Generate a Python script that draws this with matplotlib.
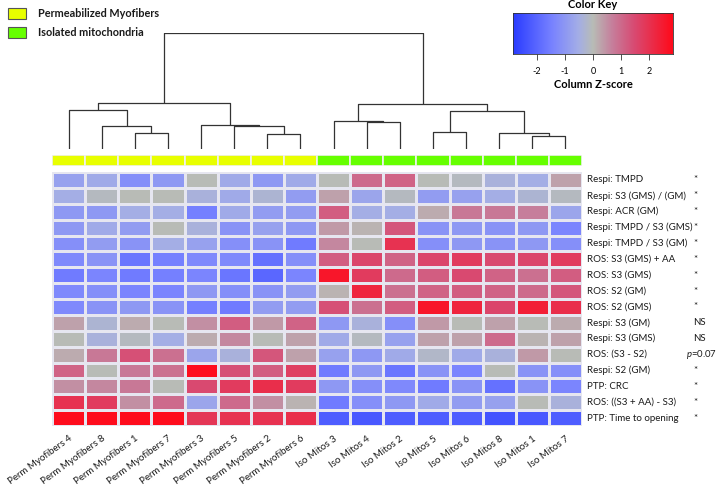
import numpy as np
import matplotlib
matplotlib.use("Agg")
import matplotlib.pyplot as plt
from matplotlib.colors import LinearSegmentedColormap, Normalize
from matplotlib.patches import Rectangle

plt.rcParams['font.family'] = ['Lato', 'DejaVu Sans']
plt.rcParams['mathtext.fontset'] = 'custom'
plt.rcParams['mathtext.rm'] = 'Lato'
plt.rcParams['mathtext.it'] = 'Lato:italic'

columns = ["Perm Myofibers 4", "Perm Myofibers 8", "Perm Myofibers 1", "Perm Myofibers 7",
           "Perm Myofibers 3", "Perm Myofibers 5", "Perm Myofibers 2", "Perm Myofibers 6",
           "Iso Mitos 3", "Iso Mitos 4", "Iso Mitos 2", "Iso Mitos 5",
           "Iso Mitos 6", "Iso Mitos 8", "Iso Mitos 1", "Iso Mitos 7"]
groups = ["Permeabilized Myofibers"] * 8 + ["Isolated mitochondria"] * 8
group_colors = {"Permeabilized Myofibers": "#e8ff00", "Isolated mitochondria": "#66ff00"}

rows = ["Respi: TMPD", "Respi: S3 (GMS) / (GM)", "Respi: ACR (GM)", "Respi: TMPD / S3 (GMS)",
        "Respi: TMPD / S3 (GM)", "ROS: S3 (GMS) + AA", "ROS: S3 (GMS)", "ROS: S2 (GM)",
        "ROS: S2 (GMS)", "Respi: S3 (GM)", "Respi: S3 (GMS)", "ROS: (S3 - S2)",
        "Respi: S2 (GM)", "PTP: CRC", "ROS: ((S3 + AA) - S3)", "PTP: Time to opening"]
significance = ["*", "*", "*", "*", "*", "*", "*", "*", "*", "NS", "NS", "p=0.07",
                "*", "*", "*", "*"]

zscores = np.array([
    [-0.8, -0.6, -1.2, -1.0,  0.0, -0.6, -1.0, -0.6,   0.0,  1.0,  1.1,  0.0, -0.1, -0.4, -0.5,  0.3],
    [-0.5, -0.1,  0.0,  0.0, -0.4, -0.6, -0.3, -0.9,   0.3, -0.7, -0.1, -0.9, -0.8, -0.5, -0.3, -0.1],
    [-1.0, -1.0, -0.5, -0.5, -1.5, -0.6, -0.9, -0.9,   1.2, -0.5, -0.5,  0.2,  0.8,  0.8,  0.7, -0.7],
    [-1.0, -0.6, -0.9,  0.0, -0.4, -1.1, -0.8, -1.0,   0.4,  0.1,  1.3, -1.1, -1.0, -1.1, -1.0, -1.4],
    [-1.2, -0.9, -1.1, -0.5, -0.8, -1.2, -1.1, -1.6,   0.6,  0.0,  2.0, -1.2, -1.0, -1.1, -1.0, -1.2],
    [-1.3, -1.1, -1.7, -1.5, -1.3, -1.3, -1.8, -1.2,   1.2,  1.6,  1.1,  1.6,  1.8,  1.5,  1.6,  1.8],
    [-1.6, -1.4, -1.6, -1.5, -1.4, -1.7, -2.0, -1.4,   2.6,  1.8,  1.0,  1.2,  1.5,  1.1,  0.9,  1.2],
    [-1.3, -1.2, -1.4, -1.4, -1.0, -1.2, -1.1, -0.9,   0.1,  2.3,  0.9,  1.1,  1.2,  1.1,  1.0,  1.3],
    [-1.3, -1.1, -1.0, -1.1, -1.5, -1.6, -0.9, -0.9,   1.4,  0.9,  1.2,  2.6,  2.3,  1.6,  2.4,  2.1],
    [ 0.3, -0.3,  0.2,  0.0,  0.5,  1.2,  0.4,  1.1,  -1.0, -0.4, -1.2,  0.4,  0.0,  0.3,  0.0,  0.2],
    [ 0.0, -0.4, -0.1, -0.5,  0.2,  0.6,  0.0,  0.3,  -0.6, -0.1, -0.8,  0.3,  0.3,  1.0,  0.1,  0.3],
    [ 0.2,  0.8,  1.4,  0.9, -0.7, -0.4,  1.3,  0.3,  -0.8, -1.0, -0.6, -0.2, -0.6, -0.4,  0.4,  0.0],
    [ 1.1,  0.0,  0.8,  0.9,  2.8,  1.4,  1.2,  1.7,  -1.6, -1.0, -1.7, -1.1, -1.4,  0.0, -1.1, -1.2],
    [ 0.5,  0.6,  0.8,  0.0,  1.5,  1.8,  2.1,  1.8,  -1.0, -1.2, -1.3, -1.6, -1.1, -1.8, -1.1, -1.4],
    [ 2.0,  1.8,  0.5,  1.0, -0.7,  1.0,  0.5,  0.1,  -1.6, -1.2, -1.0, -0.6, -0.9, -0.8,  0.0, -0.4],
    [ 2.8,  2.8,  2.8,  2.8,  1.9,  2.0,  2.0,  2.1,  -2.2, -2.3, -2.2, -2.2, -2.2, -2.4, -2.3, -2.2],
])

# dendrogram merges: (left, right, height); ids < 16 are leaves in display order
merges = [
    (2, 3, 16.7), (6, 7, 15.7), (14, 15, 13.3), (11, 12, 17.7), (13, 18, 16.0),
    (9, 10, 27.0), (1, 16, 23.3), (5, 17, 23.3), (4, 23, 24.7), (8, 21, 28.7),
    (0, 22, 38.7), (19, 20, 38.0), (26, 24, 46.0), (25, 27, 44.7), (28, 29, 116.0),
]

key_ticks = [-2, -1, 0, 1, 2]
zlim = 2.86

cmap = LinearSegmentedColormap.from_list("ck", [
    (0.00, "#2a3cff"),
    (0.25, "#7a84ff"),
    (0.41, "#a4aee6"),
    (0.50, "#b8bcb6"),
    (0.62, "#c67f9c"),
    (0.76, "#d84a72"),
    (1.00, "#ff0a1a"),
])
norm = Normalize(-zlim, zlim)

W, H = 720, 487
fig = plt.figure(figsize=(W / 100, H / 100), dpi=100)


def px_axes(x0, y0, x1, y1):
    return fig.add_axes([x0 / W, 1 - y1 / H, (x1 - x0) / W, (y1 - y0) / H])


HX0, HX1, HY0, HY1 = 52, 582, 172, 426
n_r, n_c = zscores.shape
FS = 7.0
TXT = "#1a1a1a"

# heatmap
ax = px_axes(HX0, HY0, HX1, HY1)
ax.pcolormesh(np.arange(n_c + 1), np.arange(n_r + 1), zscores, cmap=cmap, norm=norm,
              edgecolors="#e6e6f0", linewidth=1.0)
ax.set_xlim(0, n_c)
ax.set_ylim(n_r, 0)
ax.axis("off")
for i, lab in enumerate(rows):
    ax.text(n_c + 0.15, i + 0.5, lab, ha="left", va="center", fontsize=FS, color=TXT)
for j, lab in enumerate(columns):
    ax.text(j + 0.5, n_r + 0.5, lab, rotation=36, ha="right", va="top",
            rotation_mode="anchor", fontsize=7.0, color=TXT)

# significance column
for i, s in enumerate(significance):
    y = 1 - (HY0 + (i + 0.5) * (HY1 - HY0) / n_r) / H
    if s.startswith("p="):
        fig.text(717 / W, y, "$p$=0.07", ha="right", va="center", fontsize=6.8, color=TXT)
    else:
        fig.text(693 / W, y, s, ha="left", va="center", fontsize=FS, color=TXT)

# group colour bar
axg = px_axes(HX0, 155, HX1, 166)
for j, g in enumerate(groups):
    axg.add_patch(Rectangle((j, 0), 1, 1, facecolor=group_colors[g], edgecolor="#f0f0f0", linewidth=1.2))
axg.set_xlim(0, n_c)
axg.set_ylim(0, 1)
axg.axis("off")

# dendrogram
axd = px_axes(HX0, 33, HX1, 149.3)
pos = {i: (i + 0.5, 0.0) for i in range(n_c)}
for k, (a, b, h) in enumerate(merges):
    xa, ha_ = pos[a]
    xb, hb = pos[b]
    axd.plot([xa, xa, xb, xb], [ha_, h, h, hb], color="#333333", lw=0.9, solid_capstyle="butt")
    pos[n_c + k] = ((xa + xb) / 2, h)
axd.set_xlim(0, n_c)
axd.set_ylim(0, merges[-1][2])
axd.axis("off")

# legend
for (lab, yy) in [("Permeabilized Myofibers", 8), ("Isolated mitochondria", 27)]:
    fig.patches.append(Rectangle((8 / W, 1 - (yy + 11) / H), 18 / W, 11 / H, transform=fig.transFigure,
                                 facecolor=group_colors[lab], edgecolor="#555555", linewidth=0.8))
    fig.text(38 / W, 1 - (yy + 5.5) / H, lab, ha="left", va="center", fontsize=7.8, fontweight="bold",
             color=TXT)

# colour key
axk = px_axes(513, 13, 673, 54)
grad = np.linspace(-zlim, zlim, 256)[None, :]
axk.imshow(grad, cmap=cmap, norm=norm, aspect="auto", extent=(-zlim, zlim, 0, 1))
axk.set_xlim(-zlim, zlim)
axk.set_yticks([])
axk.set_xticks(key_ticks)
axk.set_xticklabels([str(t) for t in key_ticks], fontsize=6.5)
axk.tick_params(axis="x", length=4, width=0.6, pad=5, color="#333333")
for sp in axk.spines.values():
    sp.set_linewidth(0.6)
    sp.set_color("#333333")
fig.text(593 / W, 1 - 5 / H, "Color Key", ha="center", va="center", fontsize=8, fontweight="bold")
fig.text(593 / W, 1 - 84 / H, "Column Z-score", ha="center", va="center", fontsize=8, fontweight="bold")

fig.savefig("out.png", dpi=100)
